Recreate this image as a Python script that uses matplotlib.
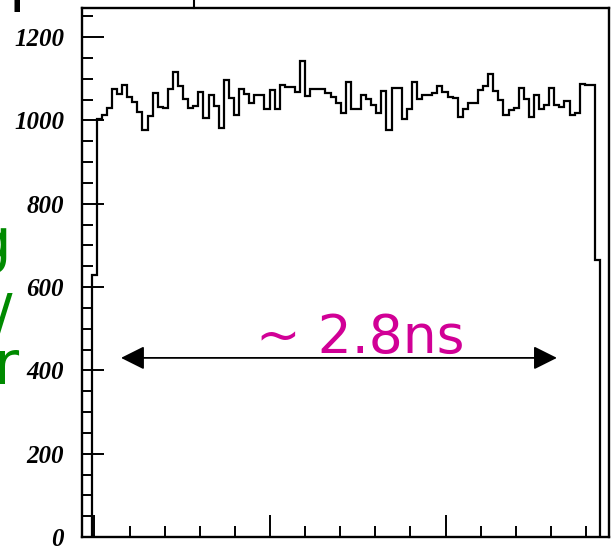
import numpy as np
import matplotlib
matplotlib.use("Agg")
import matplotlib.pyplot as plt
from matplotlib.lines import Line2D
from matplotlib.ticker import MultipleLocator, FormatStrFormatter

# Counts per time bin (100 bins spanning ~2.9 ns)
counts = [629, 1003, 1013, 1031, 1075, 1064, 1086, 1056, 1045, 1020,
          976, 1011, 1065, 1033, 1030, 1076, 1117, 1082, 1052, 1031,
          1034, 1069, 1005, 1062, 1035, 982, 1097, 1055, 1014, 1076,
          1064, 1043, 1061, 1061, 1027, 1073, 1028, 1086, 1081, 1081,
          1069, 1142, 1058, 1075, 1075, 1075, 1067, 1057, 1041, 1017,
          1093, 1028, 1028, 1062, 1052, 1038, 1017, 1070, 977, 1077,
          1077, 1004, 1028, 1093, 1052, 1060, 1062, 1066, 1083, 1069,
          1057, 1053, 1009, 1028, 1041, 1041, 1073, 1083, 1111, 1070,
          1049, 1013, 1025, 1030, 1077, 1052, 1009, 1062, 1028, 1037,
          1077, 1038, 1033, 1046, 1013, 1019, 1088, 1086, 1084, 665]
t_start = -0.0165      # ns, first bin edge
bin_width = 0.02897    # ns
y_ticks = [0, 200, 400, 600, 800, 1000, 1200]
span_label = "~ 2.8ns"
span_from, span_to, span_level = 0.151, 2.635, 430

edges = t_start + bin_width * np.arange(len(counts) + 1)

W, H = 613, 548
fig = plt.figure(figsize=(W / 100, H / 100), dpi=100)
ax = fig.add_axes([82 / W, 1 - 537 / H, (609 - 82) / W, (537 - 8) / H])

ax.stairs(counts, edges, baseline=0, color="black", linewidth=1.6)

ax.set_xlim(-0.0712, 2.9316)
ax.set_ylim(0, 1270)

ax.xaxis.set_major_locator(MultipleLocator(1))
ax.xaxis.set_minor_locator(MultipleLocator(0.2))
ax.set_yticks(y_ticks)
ax.yaxis.set_minor_locator(MultipleLocator(50))
ax.yaxis.set_major_formatter(FormatStrFormatter("%d"))

ax.tick_params(which="both", direction="in", top=False, right=False,
               labelbottom=False, width=1.4, color="black")
ax.tick_params(which="major", length=16)
ax.tick_params(which="minor", length=8)
ax.tick_params(axis="y", which="major", pad=13)
for lab in ax.get_yticklabels():
    lab.set_fontfamily("Liberation Serif")
    lab.set_fontweight("bold")
    lab.set_fontstyle("italic")
    lab.set_fontsize(18)

for sp in ax.spines.values():
    sp.set_linewidth(1.7)
    sp.set_color("black")

# double-headed span arrow with its label
ax.annotate("", xy=(span_to, span_level), xytext=(span_from, span_level),
            arrowprops=dict(arrowstyle="<|-|>,head_length=1.0,head_width=0.5",
                            mutation_scale=14.4, color="black", lw=1.3,
                            shrinkA=0, shrinkB=0))
ax.text(1.513, 441, span_label, color="#d10096", fontsize=38.5,
        family="DejaVu Sans", ha="center", va="baseline")

# neighbouring slide text running off the edges
green = "#008a00"
fig.text(11 / W, 1 - 261 / H, "g", color=green, fontsize=44,
         family="DejaVu Sans", ha="right", va="baseline")
fig.text(13 / W, 1 - 337 / H, "/", color=green, fontsize=44,
         family="DejaVu Sans", ha="right", va="baseline")
fig.text(19 / W, 1 - 384 / H, "r", color=green, fontsize=44,
         family="DejaVu Sans", ha="right", va="baseline")
fig.text(8 / W, 1 + 1 / H, "p", color="black", fontsize=44,
         family="DejaVu Sans", ha="left", va="baseline")
fig.add_artist(Line2D([194 / W, 194 / W], [1, 1 - 8 / H], color="black",
                      linewidth=1.5, transform=fig.transFigure))

fig.savefig("out.png", dpi=100)
